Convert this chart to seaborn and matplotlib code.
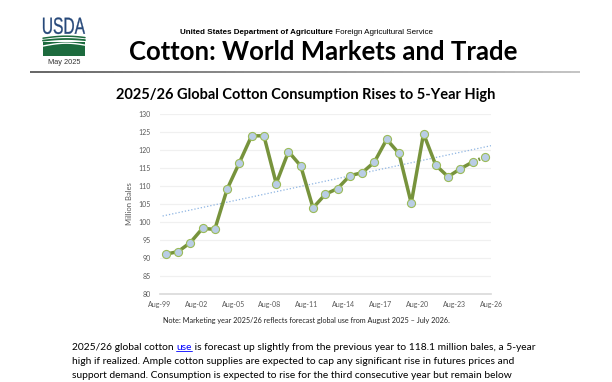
import matplotlib
matplotlib.use("Agg")
import matplotlib.pyplot as plt
import matplotlib.dates as mdates
from matplotlib.patches import Rectangle, PathPatch
from matplotlib.collections import LineCollection
from matplotlib.textpath import TextPath
from matplotlib.font_manager import FontProperties
from matplotlib.transforms import Affine2D
import numpy as np
import pandas as pd
import seaborn as sns

# World cotton use by marketing year (Aug-Jul), million bales
marketing_years = ['1999/00', '2000/01', '2001/02', '2002/03', '2003/04', '2004/05',
                   '2005/06', '2006/07', '2007/08', '2008/09', '2009/10', '2010/11',
                   '2011/12', '2012/13', '2013/14', '2014/15', '2015/16', '2016/17',
                   '2017/18', '2018/19', '2019/20', '2020/21', '2021/22', '2022/23',
                   '2023/24', '2024/25', '2025/26']
consumption = [91.0, 91.7, 94.2, 98.2, 97.9, 109.1, 116.5, 124.0, 124.0, 110.7,
               119.6, 115.6, 103.9, 107.7, 109.3, 112.9, 113.7, 116.7, 123.0, 119.1,
               105.2, 124.6, 115.8, 112.6, 114.8, 116.7, 118.1]
y_ticks = [80, 85, 90, 95, 100, 105, 110, 115, 120, 125, 130]

title = 'Cotton: World Markets and Trade'
chart_title = '2025/26 Global Cotton Consumption Rises to 5-Year High'
note = 'Note: Marketing year 2025/26 reflects forecast global use from August 2025 \u2013 July 2026.'
body = ['is forecast up slightly from the previous year to 118.1 million bales, a 5-year',
        'high if realized. Ample cotton supplies are expected to cap any significant rise in futures prices and',
        'support demand. Consumption is expected to rise for the third consecutive year but remain below']

OLIVE = '#77933C'
GREY = '#595959'

# each marketing year is plotted early in its second calendar year (Excel date axis)
df = pd.DataFrame({
    'my': marketing_years,
    'date': pd.to_datetime([f'{int(m[:4]) + 1}-02-01' for m in marketing_years]),
    'use': consumption,
})

sns.set_theme(style='white')
plt.rcParams['font.family'] = ['Lato', 'DejaVu Sans']

W, H = 612, 382
fig = plt.figure(figsize=(W / 100, H / 100), dpi=100)

# page layer in pixel coordinates
page = fig.add_axes([0, 0, 1, 1])
page.set_xlim(0, W)
page.set_ylim(H, 0)
page.axis('off')

ax = fig.add_axes([159.5 / W, 1 - 293.6 / H, (491 - 159.5) / W, (293.6 - 114.3) / H])

# trend line (linear fit)
xnum = mdates.date2num(df['date'])
k, b = np.polyfit(xnum, df['use'], 1)
t_dates = [df['date'].iloc[0] - pd.DateOffset(months=3), df['date'].iloc[-1] + pd.DateOffset(months=6)]
t_num = mdates.date2num(t_dates)
ax.plot(t_dates, k * t_num + b, color='#8DB4E2', lw=0.9, ls=(0, (1, 1.6)), zorder=1)

sns.lineplot(data=df.iloc[:-1], x='date', y='use', ax=ax, color=OLIVE, lw=2.5, zorder=2)
sns.lineplot(data=df.iloc[-2:], x='date', y='use', ax=ax, color=OLIVE, lw=2.5,
             ls=(0, (0.5, 1.3)), zorder=2)
sns.scatterplot(data=df, x='date', y='use', ax=ax, s=34, color='#B9CDE5',
                edgecolor='#9BBB59', linewidth=0.8, zorder=3)

ax.set_xlim(pd.Timestamp('1999-08-01'), pd.Timestamp('2026-08-01'))
ax.set_xticks(pd.date_range('1999-08-01', '2026-08-01', freq='36MS'))
ax.xaxis.set_major_formatter(mdates.DateFormatter('%b-%y'))
ax.set_ylim(80, 130)
ax.set_yticks(y_ticks)
ax.grid(axis='y', color='#F0F0F0', lw=0.9)
ax.grid(axis='x', visible=False)
for s in ['top', 'left', 'right']:
    ax.spines[s].set_visible(False)
ax.spines['bottom'].set_color('#D9D9D9')
ax.spines['bottom'].set_linewidth(1.2)
ax.tick_params(axis='both', length=0, labelsize=5, colors=GREY)
ax.tick_params(axis='y', pad=6.3)
ax.tick_params(axis='x', pad=5)
ax.set_xlabel('')
ax.set_ylabel('')
ax.set_facecolor('none')

page.text(129, 204, 'Million Bales', rotation=90, ha='center', va='center', size=5.5, color=GREY)

# ---- header ----
renderer = fig.canvas.get_renderer()
inv = page.transData.inverted()


def run(x, y, pieces, **kw):
    """place text pieces one after another, return list of artists"""
    arts = []
    for txt, style in pieces:
        opts = dict(kw)
        opts.update(style)
        t = page.text(x, y, txt, ha='left', va='baseline', **opts)
        bb = t.get_window_extent(renderer)
        x = inv.transform((bb.x1, bb.y0))[0]
        arts.append(t)
    return arts


arial = ['Liberation Sans', 'DejaVu Sans']
run(180, 34, [('United States Department of Agriculture', {'weight': 'bold'}),
              (' Foreign Agricultural Service', {})], family=arial, size=5.75, color='black')
page.text(323, 59.5, title, ha='center', va='baseline', size=18.5, weight='bold', color='black')

# gradient rule under the title
xs = np.linspace(30, 580, 60)
segs = [[(xs[i], 71.7), (xs[i + 1], 71.7)] for i in range(len(xs) - 1)]
shades = np.linspace(0.35, 0.75, len(segs))
page.add_collection(LineCollection(segs, colors=[(g, g, g) for g in shades], lw=1.3))

# USDA logo: condensed lettering squeezed into a box, green field below
tp = TextPath((0, 0), 'USDA', size=10, prop=FontProperties(family='Liberation Sans'))
ext = tp.get_extents()
lx0, lx1, ly0, ly1 = 43, 85, 17.5, 34
tr = (Affine2D().translate(-ext.x0, -ext.y0)
      .scale((lx1 - lx0) / ext.width, -(ly1 - ly0) / ext.height)
      .translate(lx0, ly1))
page.add_patch(PathPatch(tr.transform_path(tp), color='#27497A', lw=0.2))
green = '#1D6B3E'
page.add_patch(Rectangle((43, 41.5), 42, 14.5, color=green, lw=0))
sx = np.linspace(43, 85, 40)
arc = np.sin((sx - 43) / 42 * np.pi * 0.9)
page.plot(sx, 38.2 - 2.0 * arc, color=green, lw=1.1)
page.plot(sx, 40.6 - 1.6 * arc, color=green, lw=1.3)
page.plot(sx, 46 - 2.8 * arc, color='white', lw=1.0)
page.text(64, 62.5, 'May 2025', ha='center', va='center', size=5.3, family=arial, color='#333333')

# chart title and note
page.text(306, 95, chart_title, ha='center', va='center', size=10.5, weight='bold', color='black')
page.text(306, 320.7, note, ha='center', va='center', size=5.25, color='#222222')

# body paragraph
body_size = 7.4
arts = run(72, 349.5, [('2025/26 global cotton ', {}), ('use', {'color': '#0000FF'}),
                       (' ' + body[0], {})], size=body_size, color='black')
ub = arts[1].get_window_extent(renderer)
(ux0, uy), (ux1, _) = inv.transform([(ub.x0, ub.y0), (ub.x1, ub.y0)])
page.plot([ux0, ux1], [350.8, 350.8], color='#0000FF', lw=0.6)
page.text(72, 363.5, body[1], ha='left', va='baseline', size=body_size, color='black')
page.text(72, 377.5, body[2], ha='left', va='baseline', size=body_size, color='black')

fig.savefig('out.png', dpi=100)
